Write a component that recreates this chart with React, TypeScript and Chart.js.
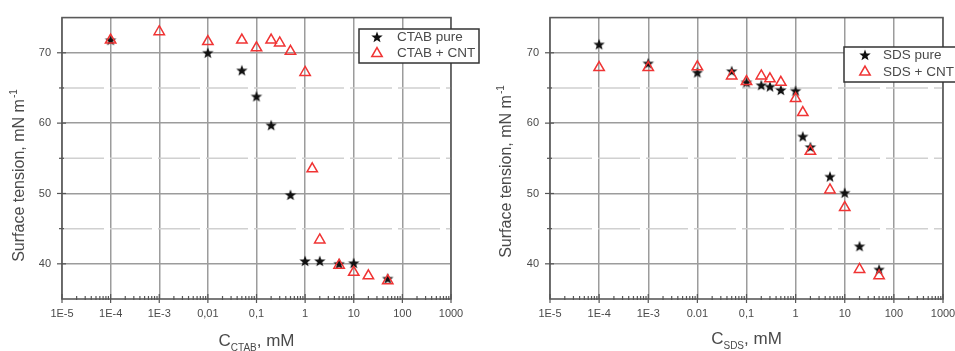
import { useEffect, useRef } from 'react';
import { Chart, registerables } from 'chart.js';

Chart.register(...registerables);

// ---- data ----
const xTickValues = [1e-5, 1e-4, 1e-3, 0.01, 0.1, 1, 10, 100, 1000];
const ctabTickLabels = ['1E-5', '1E-4', '1E-3', '0,01', '0,1', '1', '10', '100', '1000'];
const sdsTickLabels = ['1E-5', '1E-4', '1E-3', '0.01', '0,1', '1', '10', '100', '1000'];
const yMajorTicks = [40, 50, 60, 70];
const yMinorTicks = [45, 55, 65];

const ctabPureC = [1e-4, 0.01, 0.05, 0.1, 0.2, 0.5, 1, 2, 5, 10, 50];
const ctabPureST = [71.8, 70.0, 67.5, 63.8, 59.7, 49.8, 40.4, 40.4, 40.0, 40.1, 37.9];
const ctabCntC = [1e-4, 1e-3, 0.01, 0.05, 0.1, 0.2, 0.3, 0.5, 1, 1.4, 2, 5, 10, 20, 50];
const ctabCntST = [71.8, 73.0, 71.6, 71.8, 70.7, 71.8, 71.4, 70.2, 67.2, 53.5, 43.4, 39.8, 38.8, 38.3, 37.6];

const sdsPureC = [1e-4, 1e-3, 0.01, 0.05, 0.1, 0.2, 0.3, 0.5, 1, 1.4, 2, 5, 10, 20, 50];
const sdsPureST = [71.2, 68.5, 67.2, 67.4, 65.8, 65.4, 65.2, 64.7, 64.6, 58.1, 56.6, 52.4, 50.1, 42.5, 39.2];
const sdsCntC = [1e-4, 1e-3, 0.01, 0.05, 0.1, 0.2, 0.3, 0.5, 1, 1.4, 2, 5, 10, 20, 50];
const sdsCntST = [67.9, 67.9, 68.0, 66.7, 65.9, 66.7, 66.3, 65.8, 63.5, 61.5, 56.0, 50.5, 48.0, 39.2, 38.3];

// ---- style ----
const FONT = "'Liberation Sans', Arial, sans-serif";
const TEXT = '#4a4a4a';
const GRID = '#9c9c9c';
const RED = '#f03434';
const STAR = '#111111';

function makeStar(): HTMLCanvasElement {
  const c = document.createElement('canvas');
  c.width = 14;
  c.height = 14;
  const ctx = c.getContext('2d')!;
  ctx.fillStyle = STAR;
  ctx.beginPath();
  for (let i = 0; i < 10; i++) {
    const ang = -Math.PI / 2 + (i * Math.PI) / 5;
    const r = i % 2 === 0 ? 6 : 2.5;
    const px = 7 + Math.cos(ang) * r;
    const py = 7.4 + Math.sin(ang) * r;
    if (i === 0) ctx.moveTo(px, py);
    else ctx.lineTo(px, py);
  }
  ctx.closePath();
  ctx.fill();
  return c;
}

interface Panel {
  pureLabel: string;
  cntLabel: string;
  sub: string;
  pureC: number[];
  pureST: number[];
  cntC: number[];
  cntST: number[];
  xLabels: string[];
  width: number;
  yAxisWidth: number;
  padTop: number;
  padRight: number;
  legend: { x: number; y: number; w: number; h: number; sym: number; text: number; r1: number; r2: number };
  yTitle: { x: number; y: number };
  xTitleY: number;
}

function drawTriangle(ctx: CanvasRenderingContext2D, x: number, y: number, r: number) {
  ctx.beginPath();
  for (let i = 0; i < 3; i++) {
    const a = (i * 2 * Math.PI) / 3;
    const px = x + Math.sin(a) * r;
    const py = y - Math.cos(a) * r;
    if (i === 0) ctx.moveTo(px, py);
    else ctx.lineTo(px, py);
  }
  ctx.closePath();
  ctx.stroke();
}

function decorPlugin(p: Panel, star: HTMLCanvasElement) {
  return {
    id: 'decor',
    beforeDatasetsDraw(chart: any) {
      const { ctx, chartArea: a, scales } = chart;
      ctx.save();
      ctx.strokeStyle = '#d0d0d0';
      ctx.lineWidth = 1.5;
      ctx.setLineDash([42, 6]);
      for (const v of yMinorTicks) {
        const py = scales.y.getPixelForValue(v);
        ctx.beginPath();
        ctx.moveTo(a.left, py);
        ctx.lineTo(a.right, py);
        ctx.stroke();
      }
      ctx.restore();
    },
    afterDraw(chart: any) {
      const { ctx, chartArea: a, scales } = chart;
      const xs = scales.x;
      const ys = scales.y;
      ctx.save();
      // frame
      ctx.strokeStyle = '#5a5a5a';
      ctx.lineWidth = 1.6;
      ctx.strokeRect(a.left, a.top, a.right - a.left, a.bottom - a.top);
      // x ticks
      ctx.lineWidth = 1.2;
      ctx.strokeStyle = '#555';
      for (let d = -5; d <= 2; d++) {
        for (let k = 2; k <= 9; k++) {
          const px = xs.getPixelForValue(k * Math.pow(10, d));
          ctx.beginPath();
          ctx.moveTo(px, a.bottom - 3);
          ctx.lineTo(px, a.bottom + 1);
          ctx.stroke();
        }
      }
      for (const v of xTickValues) {
        const px = xs.getPixelForValue(v);
        ctx.beginPath();
        ctx.moveTo(px, a.bottom - 5);
        ctx.lineTo(px, a.bottom + 4);
        ctx.stroke();
      }
      // y ticks
      for (const v of yMajorTicks) {
        const py = ys.getPixelForValue(v);
        ctx.beginPath();
        ctx.moveTo(a.left - 5, py);
        ctx.lineTo(a.left + 4, py);
        ctx.stroke();
      }
      for (const v of yMinorTicks) {
        const py = ys.getPixelForValue(v);
        ctx.beginPath();
        ctx.moveTo(a.left - 3, py);
        ctx.lineTo(a.left + 2, py);
        ctx.stroke();
      }
      // legend
      const L = p.legend;
      ctx.fillStyle = '#ffffff';
      ctx.fillRect(L.x, L.y, L.w, L.h);
      ctx.strokeStyle = '#333';
      ctx.lineWidth = 1.5;
      ctx.strokeRect(L.x, L.y, L.w, L.h);
      ctx.drawImage(star, L.sym - star.width / 2, L.r1 - star.height / 2);
      ctx.strokeStyle = RED;
      ctx.lineWidth = 1.5;
      drawTriangle(ctx, L.sym, L.r2, 6);
      ctx.fillStyle = TEXT;
      ctx.font = `13.5px ${FONT}`;
      ctx.textBaseline = 'middle';
      ctx.textAlign = 'left';
      ctx.fillText(p.pureLabel, L.text, L.r1);
      ctx.fillText(p.cntLabel, L.text, L.r2);

      // y title
      ctx.save();
      ctx.translate(p.yTitle.x, p.yTitle.y);
      ctx.rotate(-Math.PI / 2);
      const main = 'Surface tension, mN m';
      const sup = '-1';
      ctx.font = `16px ${FONT}`;
      const w1 = ctx.measureText(main).width;
      ctx.font = `10px ${FONT}`;
      const w2 = ctx.measureText(sup).width;
      const sx = -(w1 + w2) / 2;
      ctx.textAlign = 'left';
      ctx.textBaseline = 'middle';
      ctx.font = `16px ${FONT}`;
      ctx.fillText(main, sx, 0);
      ctx.font = `10px ${FONT}`;
      ctx.fillText(sup, sx + w1 + 1, -6);
      ctx.restore();

      // x title
      const cx = (a.left + a.right) / 2;
      const big = `17px ${FONT}`;
      const small = `10px ${FONT}`;
      ctx.font = big;
      const wc = ctx.measureText('C').width;
      const wr = ctx.measureText(', mM').width;
      ctx.font = small;
      const ws = ctx.measureText(p.sub).width;
      const start = cx - (wc + ws + wr) / 2;
      ctx.textBaseline = 'alphabetic';
      ctx.textAlign = 'left';
      ctx.font = big;
      ctx.fillText('C', start, p.xTitleY);
      ctx.font = small;
      ctx.fillText(p.sub, start + wc, p.xTitleY + 5);
      ctx.font = big;
      ctx.fillText(', mM', start + wc + ws, p.xTitleY);
      ctx.restore();
    },
  };
}

function buildChart(canvas: HTMLCanvasElement, p: Panel) {
  const star = makeStar();
  return new Chart(canvas, {
    type: 'scatter',
    data: {
      datasets: [
        {
          label: p.cntLabel,
          data: p.cntC.map((c, i) => ({ x: c, y: p.cntST[i] })),
          pointStyle: 'triangle',
          pointRadius: 6,
          borderColor: RED,
          backgroundColor: 'rgba(255,255,255,0)',
          pointBorderWidth: 1.5,
        },
        {
          label: p.pureLabel,
          data: p.pureC.map((c, i) => ({ x: c, y: p.pureST[i] })),
          pointStyle: star,
          pointRadius: 6,
          borderColor: STAR,
          backgroundColor: STAR,
        },
      ],
    },
    options: {
      animation: false,
      responsive: false,
      events: [],
      layout: { padding: { top: p.padTop, right: p.padRight, left: 0, bottom: 0 } },
      plugins: { legend: { display: false }, tooltip: { enabled: false } },
      scales: {
        x: {
          type: 'logarithmic',
          min: 1e-5,
          max: 1000,
          afterBuildTicks: (s: any) => {
            s.ticks = xTickValues.map((v) => ({ value: v }));
          },
          afterFit: (s: any) => {
            s.height = 52;
            s.paddingLeft = 0;
            s.paddingRight = 0;
          },
          ticks: {
            autoSkip: false,
            maxRotation: 0,
            minRotation: 0,
            padding: 8,
            color: TEXT,
            font: { family: FONT, size: 11 },
            callback: (_v: any, i: number) => p.xLabels[i],
          },
          grid: { color: GRID, lineWidth: 1.5, drawTicks: false },
          border: { display: false },
        },
        y: {
          type: 'linear',
          min: 35,
          max: 75,
          afterBuildTicks: (s: any) => {
            s.ticks = yMajorTicks.map((v) => ({ value: v }));
          },
          afterFit: (s: any) => {
            s.width = p.yAxisWidth;
          },
          ticks: { padding: 11, color: TEXT, font: { family: FONT, size: 11 } },
          grid: { color: GRID, lineWidth: 1.5, drawTicks: false },
          border: { display: false },
        },
      },
    } as any,
    plugins: [decorPlugin(p, star) as any],
  });
}

const ctabPanel: Panel = {
  pureLabel: 'CTAB pure',
  cntLabel: 'CTAB + CNT',
  sub: 'CTAB',
  pureC: ctabPureC,
  pureST: ctabPureST,
  cntC: ctabCntC,
  cntST: ctabCntST,
  xLabels: ctabTickLabels,
  width: 480,
  yAxisWidth: 62,
  padTop: 14,
  padRight: 29,
  legend: { x: 359, y: 29, w: 120, h: 34, sym: 377, text: 397, r1: 37, r2: 53.5 },
  yTitle: { x: 20, y: 176 },
  xTitleY: 346,
};

const sdsPanel: Panel = {
  pureLabel: 'SDS pure',
  cntLabel: 'SDS + CNT',
  sub: 'SDS',
  pureC: sdsPureC,
  pureST: sdsPureST,
  cntC: sdsCntC,
  cntST: sdsCntST,
  xLabels: sdsTickLabels,
  width: 475,
  yAxisWidth: 70,
  padTop: 11,
  padRight: 12,
  legend: { x: 364, y: 47, w: 130, h: 35, sym: 385, text: 403, r1: 55, r2: 72 },
  yTitle: { x: 27, y: 172 },
  xTitleY: 344,
};

export default function App() {
  const leftRef = useRef<HTMLCanvasElement>(null);
  const rightRef = useRef<HTMLCanvasElement>(null);

  useEffect(() => {
    const c1 = buildChart(leftRef.current!, ctabPanel);
    const c2 = buildChart(rightRef.current!, sdsPanel);
    return () => {
      c1.destroy();
      c2.destroy();
    };
  }, []);

  return (
    <div
      style={{
        position: 'absolute',
        left: 0,
        top: 0,
        width: 955,
        height: 351,
        overflow: 'hidden',
        background: '#ffffff',
      }}
    >
      <canvas
        ref={leftRef}
        width={480}
        height={351}
        style={{ position: 'absolute', left: 0, top: 0, width: 480, height: 351 }}
      />
      <canvas
        ref={rightRef}
        width={475}
        height={351}
        style={{ position: 'absolute', left: 480, top: 0, width: 475, height: 351 }}
      />
    </div>
  );
}
